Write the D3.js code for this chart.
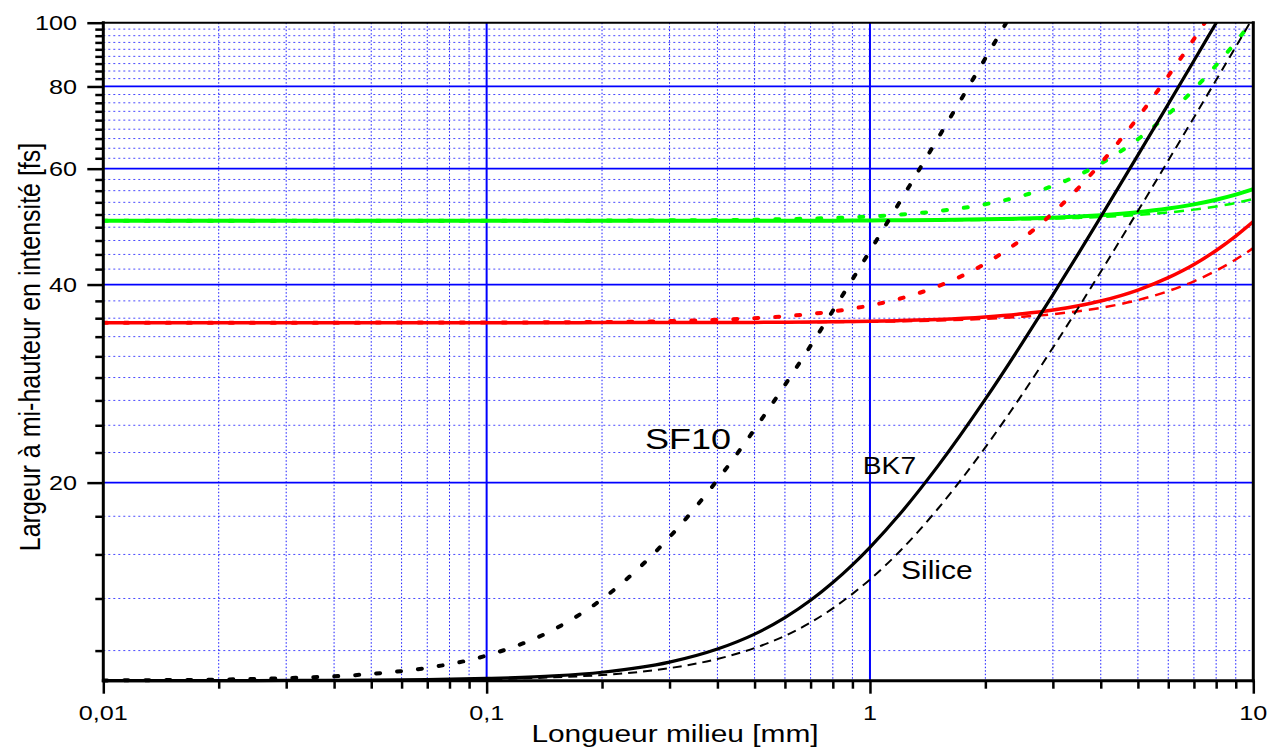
<!DOCTYPE html>
<html><head><meta charset="utf-8">
<script src="https://cdn.jsdelivr.net/npm/d3@7"></script>
<style>html,body{margin:0;padding:0;background:#fff;} svg{display:block;font-family:"Liberation Sans",Arial,sans-serif;}</style>
</head><body>
<svg id="chart" width="1278" height="753"></svg>
<script>
// ---------- data ----------
const lengths = [0.01,0.02,0.03,0.05,0.07,0.1,0.15,0.2,0.3,0.4,0.5,0.6,0.7,0.8,0.9,1,1.2,1.5,2,2.5,3,3.5,4,5,6,7,8,9,10];

// 10 fs pulses (black)
const sf10_10fs  = [10.01,10.04,10.09,10.24,10.46,10.92,11.97,13.30,16.53,20.19,24.10,28.15,32.29,36.49,40.72,44.99,53.57,66.54,88.29,110.1,null,null,null,null,null,null,null,null,null];
const bk7_10fs   = [10.00,10.00,10.01,10.02,10.04,10.08,10.17,10.30,10.67,11.17,11.77,12.47,13.25,14.10,15.00,15.95,17.95,21.15,26.78,32.63,38.59,44.61,50.69,62.91,75.20,87.53,99.88,112.2,null];
const silice_10fs= [10.00,10.00,10.00,10.01,10.03,10.05,10.12,10.20,10.45,10.79,11.21,11.70,12.26,12.88,13.55,14.25,15.76,18.22,22.63,27.28,32.06,36.92,41.82,51.74,61.73,71.77,81.83,91.91,102.0];

// 35 fs pulses (red)
const sf10_35fs  = [35.00,35.00,35.00,35.01,35.01,35.02,35.05,35.09,35.20,35.36,35.56,35.80,36.08,36.40,36.77,37.17,38.09,39.73,43.05,46.97,51.37,56.11,61.13,71.77,82.98,94.45,106.2,null,null];
const bk7_35fs   = [35.00,35.00,35.00,35.00,35.00,35.00,35.00,35.01,35.02,35.03,35.04,35.06,35.09,35.12,35.15,35.18,35.26,35.40,35.71,36.10,36.58,37.15,37.77,39.24,40.97,42.90,45.07,47.39,49.85];
const silice_35fs= [35.00,35.00,35.00,35.00,35.00,35.00,35.00,35.01,35.01,35.02,35.03,35.04,35.06,35.08,35.10,35.12,35.17,35.27,35.48,35.74,36.06,36.44,36.87,37.88,39.09,40.46,41.99,43.66,45.45];

// 50 fs pulses (green)
const sf10_50fs  = [50.00,50.00,50.00,50.00,50.00,50.01,50.02,50.03,50.07,50.12,50.19,50.28,50.38,50.49,50.62,50.76,51.09,51.70,52.98,54.59,56.50,58.67,61.07,66.51,72.59,79.18,86.17,93.45,100.96];
const bk7_50fs   = [50.00,50.00,50.00,50.00,50.00,50.00,50.00,50.00,50.00,50.00,50.01,50.01,50.02,50.02,50.03,50.06,50.09,50.14,50.25,50.39,50.55,50.75,50.98,51.52,52.18,52.95,53.82,54.78,55.84];
const silice_50fs= [50.00,50.00,50.00,50.00,50.00,50.00,50.00,50.00,50.00,50.00,50.01,50.01,50.01,50.02,50.03,50.04,50.06,50.09,50.16,50.26,50.37,50.51,50.66,51.02,51.47,51.99,52.57,53.23,53.97];

const xTickValues = [0.01,0.1,1,10];
const xTickLabels = ["0,01","0,1","1","10"];
const yTickValues = [20,40,60,80,100];
const yTickLabels = ["20","40","60","80","100"];
const yMinorStep = 20/9;

const xTitle = "Longueur milieu [mm]";
const yTitle = "Largeur à mi-hauteur en intensité [fs]";
const annotationTexts = ["SF10","BK7","Silice"];
const annotationX = [0.259, 0.958, 1.205];
const annotationY = [22.5, 20.6, 14.27];

// ---------- layout ----------
const L = 103.3, R = 1253.3, T = 22.7, B = 680.7;
const svg = d3.select("#chart");
const x = d3.scaleLog().domain([0.01,10]).range([L,R]);
const y = d3.scaleLog().domain([10,100]).range([B,T]);
const SX = 1.2; // horizontal glyph stretch of the original export

// ---------- grid ----------
const grid = svg.append("g");
const xMinor = x.ticks().filter(v => !xTickValues.some(t => Math.abs(t - v) / t < 1e-6));
const yMinor = d3.range(5, 45).filter(k => k % 9 !== 0).map(k => k * yMinorStep);

grid.selectAll(".hminor").data(yMinor).join("line")
  .attr("x1", L).attr("x2", R).attr("y1", d => y(d)).attr("y2", d => y(d))
  .attr("stroke", "#4a4aff").attr("stroke-width", 1).attr("stroke-dasharray", "2,3");
grid.selectAll(".vminor").data(xMinor).join("line")
  .attr("x1", d => x(d)).attr("x2", d => x(d)).attr("y1", T).attr("y2", B)
  .attr("stroke", "#1a1aff").attr("stroke-width", 1).attr("stroke-dasharray", "1.5,2");
grid.selectAll(".hmajor").data(yTickValues.filter(v => v < 100)).join("line")
  .attr("x1", L).attr("x2", R).attr("y1", d => y(d)).attr("y2", d => y(d))
  .attr("stroke", "#0000ff").attr("stroke-width", 1.7);
grid.selectAll(".vmajor").data(xTickValues.filter(v => v > 0.01 && v < 10)).join("line")
  .attr("x1", d => x(d)).attr("x2", d => x(d)).attr("y1", T).attr("y2", B)
  .attr("stroke", "#0000ff").attr("stroke-width", 2);

// ---------- curves ----------
svg.append("clipPath").attr("id", "plotclip").append("rect")
  .attr("x", L).attr("y", T).attr("width", R - L).attr("height", B - T + 4);

const series = [
  {v: sf10_50fs,   color: "#00ff00", w: 4,   dash: "4,17", cap: "round"},
  {v: silice_50fs, color: "#00ff00", w: 2.5, dash: "10,7", cap: "butt"},
  {v: bk7_50fs,    color: "#00ff00", w: 4,   dash: null,   cap: "butt"},
  {v: sf10_35fs,   color: "#ff0000", w: 4,   dash: "4,17", cap: "round"},
  {v: silice_35fs, color: "#ff0000", w: 2.5, dash: "10,7", cap: "butt"},
  {v: bk7_35fs,    color: "#ff0000", w: 3.5, dash: null,   cap: "butt"},
  {v: sf10_10fs,   color: "#000000", w: 4,   dash: "4,17", cap: "round"},
  {v: silice_10fs, color: "#000000", w: 2,   dash: "9,6",  cap: "butt"},
  {v: bk7_10fs,    color: "#000000", w: 3.2, dash: null,   cap: "butt"}
];
const line = d3.line()
  .defined(d => d[1] != null)
  .x(d => x(d[0])).y(d => y(d[1]))
  .curve(d3.curveMonotoneX);

const curves = svg.append("g").attr("clip-path", "url(#plotclip)");
series.forEach(s => {
  curves.append("path")
    .attr("d", line(lengths.map((l, i) => [l, s.v[i]])))
    .attr("fill", "none").attr("stroke", s.color).attr("stroke-width", s.w)
    .attr("stroke-dasharray", s.dash).attr("stroke-linecap", s.cap)
    .attr("stroke-linejoin", "round");
});

// ---------- axes ----------
function styleAxis(g) {
  g.select(".domain").remove();
  g.selectAll(".tick line").attr("stroke", "#000").attr("stroke-width", 2.5);
  g.selectAll(".tick text").remove();
}
svg.append("g").attr("transform", `translate(${L},0)`)
  .call(d3.axisLeft(y).tickValues(yTickValues).tickSize(16).tickFormat(() => "")).call(styleAxis);
svg.append("g").attr("transform", `translate(${L},0)`)
  .call(d3.axisLeft(y).tickValues(yMinor).tickSize(8).tickFormat(() => "")).call(styleAxis);
svg.append("g").attr("transform", `translate(0,${B})`)
  .call(d3.axisBottom(x).tickValues(xTickValues).tickSize(13).tickFormat(() => "")).call(styleAxis);
svg.append("g").attr("transform", `translate(0,${B})`)
  .call(d3.axisBottom(x).tickValues(xMinor).tickSize(8).tickFormat(() => "")).call(styleAxis);

const frame = svg.append("g").attr("stroke", "#000").attr("stroke-linecap", "square");
frame.append("line").attr("x1", L).attr("x2", R).attr("y1", T).attr("y2", T).attr("stroke-width", 2);
frame.append("line").attr("x1", R).attr("x2", R).attr("y1", T).attr("y2", B).attr("stroke-width", 3);
frame.append("line").attr("x1", L).attr("x2", R).attr("y1", B).attr("y2", B).attr("stroke-width", 3);
frame.append("line").attr("x1", L).attr("x2", L).attr("y1", T).attr("y2", B).attr("stroke-width", 3);

// ---------- tick labels ----------
svg.append("g").selectAll("text").data(yTickValues).join("text")
  .attr("transform", d => `translate(77,${y(d) + 7.5}) scale(${SX},1)`)
  .attr("text-anchor", "end").attr("font-size", 21).attr("fill", "#000")
  .text((d, i) => yTickLabels[i]);
svg.append("g").selectAll("text").data(xTickValues).join("text")
  .attr("transform", d => `translate(${x(d)},720) scale(${SX},1)`)
  .attr("text-anchor", "middle").attr("font-size", 21).attr("fill", "#000")
  .text((d, i) => xTickLabels[i]);

// ---------- titles ----------
svg.append("text")
  .attr("transform", `translate(675,742) scale(1.22,1)`)
  .attr("text-anchor", "middle").attr("font-size", 24.5).attr("fill", "#000")
  .text(xTitle);
svg.append("text")
  .attr("transform", `translate(39.5,347) scale(${SX},1) rotate(-90)`)
  .attr("text-anchor", "middle").attr("font-size", 25).attr("fill", "#000")
  .text(yTitle);

// ---------- annotations ----------
const annSizes = [30, 23.5, 25];
svg.append("g").selectAll("text").data(annotationTexts).join("text")
  .attr("transform", (d, i) => `translate(${x(annotationX[i])},${y(annotationY[i])}) scale(${SX},1)`)
  .attr("font-size", (d, i) => annSizes[i]).attr("fill", "#000")
  .text(d => d);
</script>
</body></html>
